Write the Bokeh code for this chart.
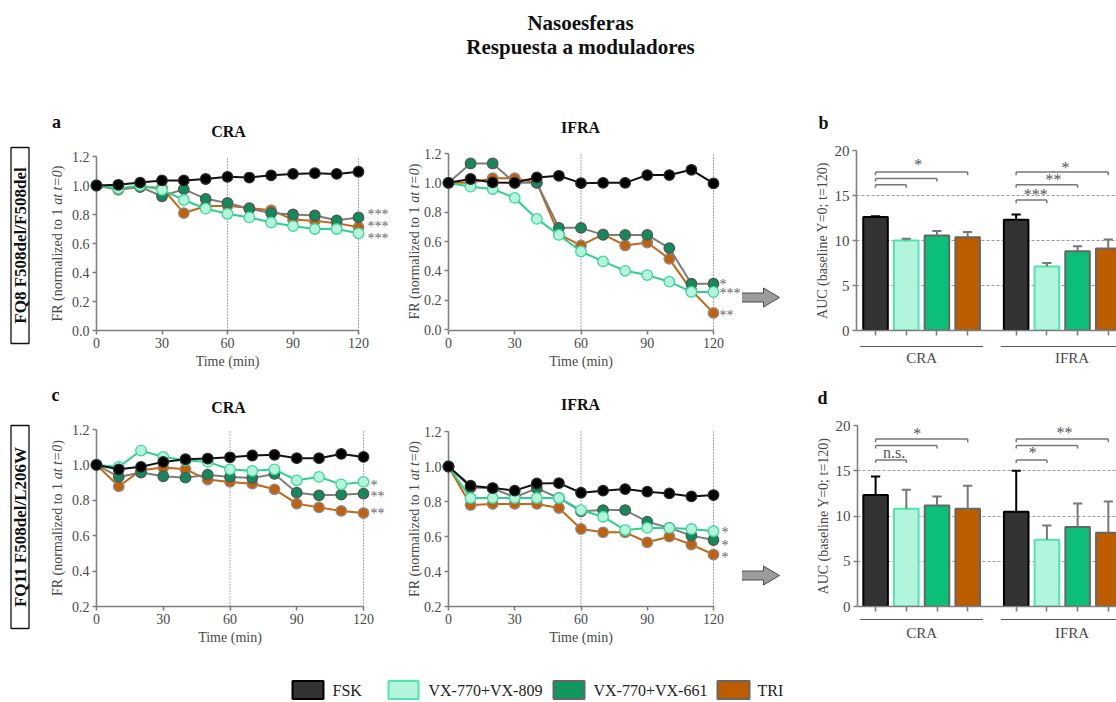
import math
from bokeh.plotting import figure
from bokeh.layouts import column, row
from bokeh.models import Range1d, FixedTicker, NumeralTickFormatter
from bokeh.core.properties import value
from bokeh.embed import file_html
from bokeh.resources import INLINE

FONT = "Liberation Serif"
SERIF = value(FONT)

# ---------------- data ----------------
time_min = [0, 10, 20, 30, 40, 50, 60, 70, 80, 90, 100, 110, 120]
treatments = ["FSK", "VX-770+VX-809", "VX-770+VX-661", "TRI"]
groups = ["CRA", "IFRA"]
patients = ["FQ8 F508del/F508del", "FQ11 F508del/L206W"]
fr_label_parts = ["FR (normalized to 1 ", "at t=0", ")"]

# panel a (FQ8 F508del/F508del), CRA
a_cra_fsk = [1.00, 1.005, 1.02, 1.035, 1.035, 1.045, 1.06, 1.055, 1.07, 1.08, 1.085, 1.08, 1.095]
a_cra_809 = [1.00, 0.98, 1.00, 0.97, 0.90, 0.84, 0.805, 0.78, 0.745, 0.72, 0.70, 0.70, 0.67]
a_cra_661 = [1.00, 0.98, 0.99, 0.926, 0.975, 0.908, 0.88, 0.84, 0.81, 0.80, 0.793, 0.76, 0.78]
a_cra_tri = [1.00, 0.97, 0.99, 0.985, 0.81, 0.857, 0.86, 0.845, 0.83, 0.765, 0.756, 0.74, 0.713]
a_cra_stars = ["***", "***", "***"]
a_cra_star_y = [0.80, 0.72, 0.635]

# panel a, IFRA
a_ifra_fsk = [1.00, 1.026, 1.003, 1.00, 1.037, 1.048, 0.998, 1.00, 1.00, 1.053, 1.053, 1.089, 0.996]
a_ifra_809 = [1.00, 0.974, 0.958, 0.897, 0.754, 0.645, 0.532, 0.464, 0.40, 0.371, 0.326, 0.256, 0.256]
a_ifra_661 = [1.00, 1.132, 1.132, 1.00, 1.00, 0.693, 0.693, 0.645, 0.645, 0.645, 0.555, 0.312, 0.312]
a_ifra_tri = [1.00, 1.00, 1.032, 1.032, 1.00, 0.648, 0.573, 0.648, 0.573, 0.593, 0.482, 0.267, 0.113]
a_ifra_stars = ["*", "***", "**"]
a_ifra_star_y = [0.305, 0.245, 0.095]

# panel c (FQ11 F508del/L206W), CRA
c_cra_fsk = [1.00, 0.975, 0.989, 1.017, 1.032, 1.036, 1.043, 1.053, 1.057, 1.038, 1.038, 1.062, 1.045]
c_cra_809 = [1.00, 0.989, 1.081, 1.045, 1.026, 1.017, 0.975, 0.966, 0.975, 0.913, 0.932, 0.89, 0.904]
c_cra_661 = [1.00, 0.932, 0.957, 0.936, 0.928, 0.945, 0.932, 0.926, 0.949, 0.843, 0.828, 0.832, 0.838]
c_cra_tri = [1.00, 0.879, 0.97, 0.985, 0.975, 0.917, 0.904, 0.894, 0.862, 0.781, 0.76, 0.74, 0.728]
c_cra_stars = ["*", "**", "**"]
c_cra_star_y = [0.885, 0.823, 0.725]

# panel c, IFRA
c_ifra_fsk = [1.00, 0.89, 0.877, 0.862, 0.903, 0.905, 0.85, 0.862, 0.871, 0.856, 0.846, 0.829, 0.837]
c_ifra_809 = [1.00, 0.82, 0.82, 0.82, 0.82, 0.82, 0.751, 0.713, 0.637, 0.649, 0.649, 0.643, 0.63]
c_ifra_661 = [1.00, 0.88, 0.875, 0.824, 0.875, 0.82, 0.744, 0.751, 0.751, 0.685, 0.649, 0.605, 0.58]
c_ifra_tri = [1.00, 0.78, 0.786, 0.786, 0.786, 0.763, 0.643, 0.624, 0.624, 0.567, 0.599, 0.554, 0.497]
c_ifra_stars = ["*", "*", "*"]
c_ifra_star_y = [0.624, 0.548, 0.481]

# panel b: AUC, FQ8 (CRA then IFRA; FSK, 809, 661, TRI)
b_auc_mean = [12.6, 10.0, 10.55, 10.35, 12.3, 7.1, 8.8, 9.1]
b_auc_sem = [0.1, 0.2, 0.5, 0.6, 0.6, 0.4, 0.55, 1.0]
b_brackets = [(0, 1, 16.2), (0, 2, 16.9), (0, 3, 17.6), (4, 5, 14.5), (4, 6, 16.2), (4, 7, 17.6)]
b_sig_text = ["*", "***", "**", "*"]
b_sig_x = [1.39, 5.22, 5.80, 6.19]
b_sig_y = [18.4, 15.1, 16.8, 18.1]

# panel d: AUC, FQ11
d_auc_mean = [12.33, 10.81, 11.15, 10.81, 10.48, 7.37, 8.78, 8.15]
d_auc_sem = [2.04, 2.08, 1.0, 2.52, 4.52, 1.59, 2.59, 3.44]
d_brackets = [(0, 1, 16.2), (0, 2, 17.8), (0, 3, 18.5), (4, 5, 16.2), (4, 6, 17.8), (4, 7, 18.5)]
d_sig_text = ["n.s.", "*", "*", "**"]
d_sig_x = [0.60, 1.36, 5.12, 6.15]
d_sig_y = [17.0, 19.1, 17.0, 19.2]

# ---------------- styles ----------------
line_color = ["#111111", "#2fcf8e", "#7d7d7d", "#c8650f"]
marker_fill = ["#000000", "#b5f4da", "#138a5c", "#c2610d"]
marker_line = ["#2a2a2a", "#3cd89b", "#555555", "#8c8c8c"]
bar_fill = ["#333333", "#b3f5dc", "#0bbf78", "#bd5d00"]
bar_line = ["#000000", "#4fe6ae", "#666666", "#666666"]
err_color = ["#000000", "#777777", "#777777", "#777777"]
legend_fill = ["#333333", "#b3f5dc", "#10985f", "#bd5d00"]
legend_line = ["#000000", "#4fe6ae", "#666666", "#666666"]
GRAY = "#7f7f7f"
TXT = "#4a4a4a"
GROUP_OFFSET = 4.58
LABEL_PX = 14
# Times/Liberation Serif advance widths (em) of the three label parts
FR_PART_EM = [8.333, 2.481, 0.333]

# row geometry (global pixels): figure top/bottom and common frame top/bottom
ROW1 = dict(y0=95, y1=372, T=150, B=330)
ROW2 = dict(y0=372, y1=652, T=425, B=606)


def style_axis(ax, label_standoff, tick_size="14px", label_size="14px"):
    ax.axis_line_color = GRAY
    ax.axis_line_width = 1.6
    ax.major_tick_line_color = GRAY
    ax.major_tick_line_width = 1.6
    ax.major_tick_in = 0
    ax.major_tick_out = 4
    ax.minor_tick_line_color = None
    ax.major_label_text_font = FONT
    ax.major_label_text_font_size = tick_size
    ax.major_label_text_color = TXT
    ax.major_label_standoff = 3
    ax.axis_label_text_font = FONT
    ax.axis_label_text_font_size = label_size
    ax.axis_label_text_font_style = "normal"
    ax.axis_label_text_color = TXT
    ax.axis_label_standoff = label_standoff


def base_fig(x0, x1, L, R, rowg, xr, yd, ypix):
    """yd=(vmin, vmax) wanted at global pixels ypix=(pix_of_vmin, pix_of_vmax)."""
    T, B = rowg["T"], rowg["B"]
    pp = (yd[1] - yd[0]) / (ypix[0] - ypix[1])
    yr = (yd[0] - (B - ypix[0]) * pp, yd[1] + (ypix[1] - T) * pp)
    p = figure(width=x1 - x0, height=rowg["y1"] - rowg["y0"],
               x_range=Range1d(*xr), y_range=Range1d(*yr),
               min_border_left=L - x0, min_border_right=x1 - R,
               min_border_top=T - rowg["y0"], min_border_bottom=rowg["y1"] - B,
               output_backend="svg", toolbar_location=None, tools="")
    p.outline_line_color = None
    p.background_fill_color = "white"
    p.border_fill_color = "white"

    def X(px):
        return xr[0] + (px - L) / (R - L) * (xr[1] - xr[0])

    def Y(py):
        return yr[0] + (B - py) / (B - T) * (yr[1] - yr[0])
    return p, X, Y


def add_text(p, x, y, text, size, bold=False, color="#111111", align="center", angle=0.0,
             style=None):
    if style is None:
        style = "bold" if bold else "normal"
    p.text(x=x, y=y, text=text, angle=angle, text_font=SERIF, text_font_size=size,
           text_font_style=style, text_color=color,
           text_align=align, text_baseline="middle", level="overlay")


def line_panel(x0, x1, L, R, rowg, ymin, ypix, yticks, series, star_px, stars, star_y,
               title, title_xy, letter, letter_xy, ylab_x):
    p, X, Y = base_fig(x0, x1, L, R, rowg, (0, 120), (ymin, 1.2), ypix)
    p.grid.visible = False
    p.xaxis.ticker = FixedTicker(ticks=[0, 30, 60, 90, 120])
    p.yaxis.ticker = FixedTicker(ticks=yticks)
    p.yaxis.bounds = (ymin, 1.2)
    p.yaxis.formatter = NumeralTickFormatter(format="0.0")
    p.xaxis.axis_label = "Time (min)"
    style_axis(p.xaxis[0], 3)
    style_axis(p.yaxis[0], 2)
    # y label with italic "at t=0", drawn bottom-to-top in three runs
    widths = [w * LABEL_PX for w in FR_PART_EM]
    center = (ypix[0] + ypix[1]) / 2
    start = center + sum(widths) / 2
    offs = [start, start - widths[0], start - widths[0] - widths[1]]
    for part, oy, st in zip(fr_label_parts, offs, ["normal", "italic", "normal"]):
        add_text(p, [X(ylab_x)], [Y(oy)], [part], "%dpx" % LABEL_PX, color=TXT, align="left",
                 angle=math.pi / 2, style=st)
    p.segment(x0=[60, 120], y0=[ymin, ymin], x1=[60, 120], y1=[1.2, 1.2],
              line_color="#555555", line_width=1, line_dash="1 2", level="annotation")
    for i in [3, 2, 1, 0]:
        p.line(time_min, series[i], line_color=line_color[i], line_width=2, level="overlay")
        p.scatter(time_min, series[i], marker="circle", size=10.5, fill_color=marker_fill[i],
                  line_color=marker_line[i], line_width=1.3, level="overlay")
    add_text(p, [X(star_px)] * len(stars), star_y, stars, "14px", color="#666666", align="left")
    add_text(p, [X(title_xy[0])], [Y(title_xy[1])], [title], "16px", bold=True)
    if letter:
        add_text(p, [X(letter_xy[0])], [Y(letter_xy[1])], [letter], "18px", bold=True)
    return p


def bar_panel(x0, x1, L, R, rowg, xstart, ypix, means, sems, brackets, sig_text, sig_x, sig_y,
              group_line_y, group_label_y, group_label_x, letter, letter_xy, ylab_standoff):
    unit = 30.7
    xend = xstart + (R - L) / unit
    p, X, Y = base_fig(x0, x1, L, R, rowg, (xstart, xend), (0, 20), ypix)
    pos = [i % 4 + (i // 4) * GROUP_OFFSET for i in range(8)]
    p.xgrid.visible = False
    p.ygrid.ticker = FixedTicker(ticks=[5, 10, 15, 20])
    p.ygrid.grid_line_color = "#9a9a9a"
    p.ygrid.grid_line_dash = "3 2"
    p.ygrid.grid_line_width = 1
    p.yaxis.ticker = FixedTicker(ticks=[0, 5, 10, 15, 20])
    p.yaxis.bounds = (0, 20)
    p.xaxis.ticker = FixedTicker(ticks=pos)
    p.yaxis.axis_label = "AUC (baseline Y=0; t=120)"
    style_axis(p.xaxis[0], 0)
    style_axis(p.yaxis[0], ylab_standoff, tick_size="15px")
    p.xaxis.major_label_text_color = None
    p.xaxis.major_tick_out = 5
    cols = [i % 4 for i in range(8)]
    p.vbar(x=pos, top=means, width=0.8, fill_color=[bar_fill[c] for c in cols],
           line_color=[bar_line[c] for c in cols], line_width=2)
    tops = [m + s for m, s in zip(means, sems)]
    p.segment(x0=pos, y0=means, x1=pos, y1=tops, line_color=[err_color[c] for c in cols], line_width=2)
    p.segment(x0=[x - 0.15 for x in pos], y0=tops, x1=[x + 0.15 for x in pos], y1=tops,
              line_color=[err_color[c] for c in cols], line_width=2)
    hx0, hx1, hy, vx, vy0, vy1 = [], [], [], [], [], []
    for i0, i1, yb in brackets:
        hx0.append(pos[i0]); hx1.append(pos[i1]); hy.append(yb)
        for k in (i0, i1):
            vx.append(pos[k]); vy0.append(yb); vy1.append(yb - 0.35)
    p.segment(x0=hx0, y0=hy, x1=hx1, y1=hy, line_color="#777777", line_width=1.5)
    p.segment(x0=vx, y0=vy0, x1=vx, y1=vy1, line_color="#777777", line_width=1.5)
    p.text(x=sig_x, y=sig_y, text=sig_text, text_font=SERIF, text_font_size="16px",
           text_color="#555555", text_align="center", text_baseline="middle")
    centers = [1.5, 1.5 + GROUP_OFFSET]
    p.segment(x0=[c - 2.0 for c in centers], y0=[Y(group_line_y)] * 2,
              x1=[c + 2.0 for c in centers], y1=[Y(group_line_y)] * 2,
              line_color="#555555", line_width=1.2, level="overlay")
    add_text(p, group_label_x, [Y(group_label_y)] * 2, groups, "15px", color=TXT)
    add_text(p, [X(letter_xy[0])], [Y(letter_xy[1])], [letter], "18px", bold=True)
    return p


def row_pixel_fig(x0, x1, rowg):
    # frame aligned with the row; data coordinates equal global pixel coordinates
    p = figure(width=x1 - x0, height=rowg["y1"] - rowg["y0"],
               x_range=Range1d(x0, x1), y_range=Range1d(rowg["B"], rowg["T"]),
               min_border_left=0, min_border_right=0,
               min_border_top=rowg["T"] - rowg["y0"], min_border_bottom=rowg["y1"] - rowg["B"],
               x_axis_location=None, y_axis_location=None,
               output_backend="svg", toolbar_location=None, tools="")
    p.outline_line_color = None
    p.grid.visible = False
    return p


def free_pixel_fig(x0, y0, x1, y1):
    p = figure(width=x1 - x0, height=y1 - y0, x_range=Range1d(x0, x1), y_range=Range1d(y1, y0),
               min_border=0, min_border_left=0, min_border_right=0, min_border_top=0,
               min_border_bottom=0, x_axis_location=None, y_axis_location=None,
               output_backend="svg", toolbar_location=None, tools="")
    p.outline_line_color = None
    p.grid.visible = False
    return p


def patient_label(rowg, text, box_top, box_bottom):
    p = row_pixel_fig(0, 40, rowg)
    cy = (box_top + box_bottom) / 2
    p.rect(x=[19.5], y=[cy], width=[18], height=[box_bottom - box_top], fill_color=None,
           line_color="#111111", line_width=1.3, level="overlay")
    add_text(p, [19.5], [cy], [text], "17px", bold=True, angle=math.pi / 2)
    return p


def arrow_fig(rowg, yc):
    p = row_pixel_fig(742, 790, rowg)
    p.patch(x=[741, 763, 763, 779, 763, 763, 741],
            y=[yc - 4.5, yc - 4.5, yc - 9.5, yc, yc + 9.5, yc + 4.5, yc + 4.5],
            fill_color="#9c9c9c", line_color="#4d4d4d", line_width=1, level="overlay")
    return p


# ---------------- title ----------------
ptitle = free_pixel_fig(0, 0, 1116, 95)
ptitle.text(x=[580, 580], y=[22, 46], text=["Nasoesferas", "Respuesta a moduladores"],
            text_font=SERIF, text_font_size="21px", text_font_style="bold",
            text_color="#111111", text_align="center", text_baseline="middle")

# ---------------- row 1 ----------------
lab1 = patient_label(ROW1, patients[0], 147, 343)
pa1 = line_panel(40, 392, 96, 358, ROW1, 0.0, (330, 156), [0.0, 0.2, 0.4, 0.6, 0.8, 1.0, 1.2],
                 [a_cra_fsk, a_cra_809, a_cra_661, a_cra_tri],
                 367, a_cra_stars, a_cra_star_y, groups[0], (228, 131), "a", (56, 121), 57)
pa2 = line_panel(392, 742, 448, 713, ROW1, 0.0, (329, 153), [0.0, 0.2, 0.4, 0.6, 0.8, 1.0, 1.2],
                 [a_ifra_fsk, a_ifra_809, a_ifra_661, a_ifra_tri],
                 719, a_ifra_stars, a_ifra_star_y, groups[1], (580, 127), "", (0, 0), 414)
arr1 = arrow_fig(ROW1, 297)
pb = bar_panel(790, 1116, 856, 1116, ROW1, -0.62, (330, 150), b_auc_mean, b_auc_sem,
               b_brackets, b_sig_text, b_sig_x, b_sig_y, 346, 357, [1.5, 6.4],
               "b", (823, 122), 2)

# ---------------- row 2 ----------------
lab2 = patient_label(ROW2, patients[1], 425, 628)
pc1 = line_panel(40, 392, 96, 363, ROW2, 0.2, (606, 429), [0.2, 0.4, 0.6, 0.8, 1.0, 1.2],
                 [c_cra_fsk, c_cra_809, c_cra_661, c_cra_tri],
                 370, c_cra_stars, c_cra_star_y, groups[0], (228, 407), "c", (55, 394), 57)
pc2 = line_panel(392, 742, 448, 713, ROW2, 0.2, (606, 431), [0.2, 0.4, 0.6, 0.8, 1.0, 1.2],
                 [c_ifra_fsk, c_ifra_809, c_ifra_661, c_ifra_tri],
                 721, c_ifra_stars, c_ifra_star_y, groups[1], (580, 404), "", (0, 0), 414)
arr2 = arrow_fig(ROW2, 575)
pd_ = bar_panel(790, 1116, 857, 1116, ROW2, -0.59, (606, 425), d_auc_mean, d_auc_sem,
                d_brackets, d_sig_text, d_sig_x, d_sig_y, 619, 632, [1.5, 6.4],
                "d", (822, 397), 2)

# ---------------- legend ----------------
leg = free_pixel_fig(0, 652, 1116, 702)
leg_box_x = [307.5, 403, 568.5, 733]
leg_box_w = [31, 30, 31, 32]
leg_text_x = [332, 428, 593, 757]
leg.rect(x=leg_box_x, y=[689.5] * 4, width=leg_box_w, height=[18] * 4,
         fill_color=legend_fill, line_color=legend_line, line_width=2)
leg.text(x=leg_text_x, y=[690] * 4, text=treatments, text_font=SERIF, text_font_size="16px",
         text_color="#222222", text_align="left", text_baseline="middle")

layout = column(ptitle,
                row(lab1, pa1, pa2, arr1, pb),
                row(lab2, pc1, pc2, arr2, pd_),
                leg)

with open("out.html", "w") as f:
    f.write(file_html(layout, INLINE, "Nasoesferas"))
